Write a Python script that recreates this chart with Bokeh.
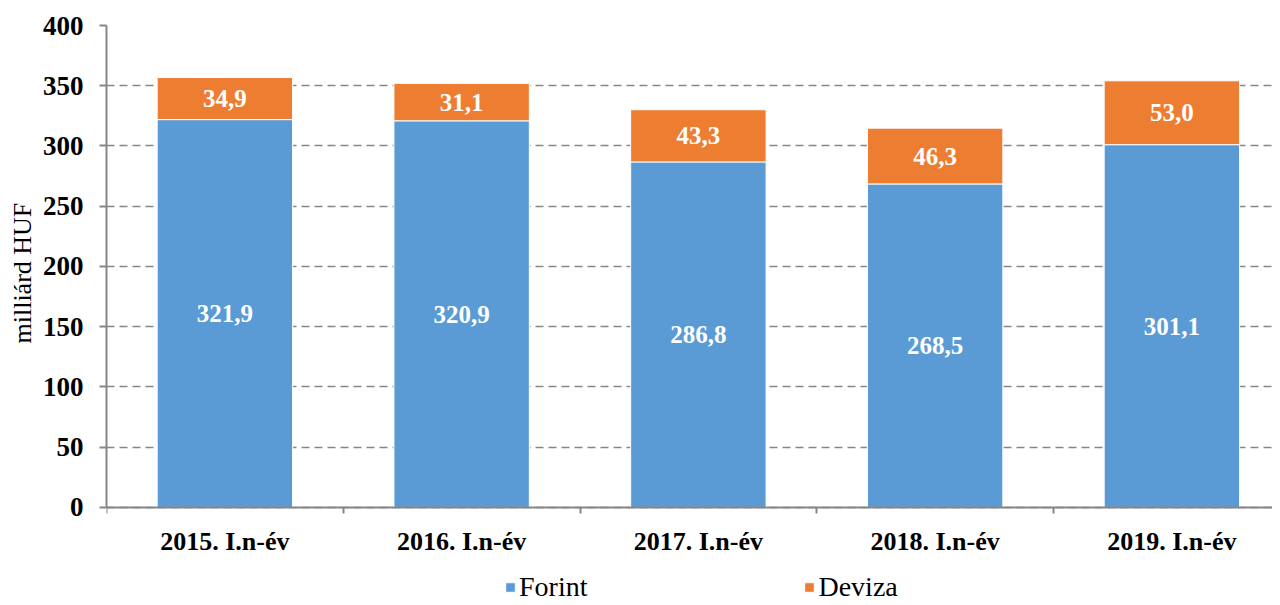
from bokeh.plotting import figure
from bokeh.models import Range1d, FixedTicker, Legend, LegendItem, ColumnDataSource, Title
from bokeh.core.properties import value
from bokeh.embed import file_html
from bokeh.resources import INLINE

categories = ["2015. I.n-év", "2016. I.n-év", "2017. I.n-év", "2018. I.n-év", "2019. I.n-év"]
forint = [321.9, 320.9, 286.8, 268.5, 301.1]
deviza = [34.9, 31.1, 43.3, 46.3, 53.0]
y_ticks = [0, 50, 100, 150, 200, 250, 300, 350, 400]
series_names = ["Forint", "Deviza"]
colors = ["#5B9BD5", "#ED7D31"]
y_label = "milliárd HUF"

FONT = "Liberation Serif"
GRID = "#868686"

xs = [i + 0.5 for i in range(len(categories))]
src = ColumnDataSource(dict(x=xs, Forint=forint, Deviza=deviza))

# frame extends below zero so the category labels and legend sit inside it
p = figure(frame_width=1166, frame_height=578, output_backend="svg", toolbar_location=None,
           x_range=Range1d(0, 4.925), y_range=Range1d(-79.7, 400),
           x_axis_location="above",
           min_border_left=106, min_border_top=25, min_border_right=0, min_border_bottom=0)
p.outline_line_color = None
p.background_fill_color = "white"
p.border_fill_color = "white"

rs = p.vbar_stack(series_names, x="x", width=0.572, color=colors, source=src,
                  line_color="white", line_width=1)

# data labels
fl = [f"{v:.1f}".replace(".", ",") for v in forint]
dl = [f"{v:.1f}".replace(".", ",") for v in deviza]
fy = [v / 2 for v in forint]
dy = [f + d / 2 for f, d in zip(forint, deviza)]
for ys, texts in ((fy, fl), (dy, dl)):
    p.text(x=xs, y=ys, text=texts, text_color="white", text_font_size="25px",
           text_font_style="bold", text_align="center", text_baseline="middle",
           text_font=value(FONT))

# category labels under the baseline
p.text(x=xs, y=[0] * len(xs), text=categories, text_color="black", text_font_size="26px",
       text_font_style="bold", text_align="center", text_baseline="top",
       y_offset=20, text_font=value(FONT))

# y axis
p.yaxis.ticker = FixedTicker(ticks=y_ticks)
p.yaxis.bounds = (0, 400)
p.yaxis.axis_line_color = GRID
p.yaxis.axis_line_width = 2
p.yaxis.major_tick_line_color = GRID
p.yaxis.major_tick_line_width = 2
p.yaxis.major_tick_out = 7
p.yaxis.major_tick_in = 0
p.yaxis.minor_tick_line_color = None
p.yaxis.major_label_text_font = FONT
p.yaxis.major_label_text_font_style = "bold"
p.yaxis.major_label_text_font_size = "27px"
p.yaxis.major_label_text_color = "black"
p.yaxis.major_label_standoff = 16

# y axis title, placed along the 0-400 span
ytitle = Title(text=y_label, align="left", offset=260, text_font=FONT,
               text_font_style="normal", text_font_size="26px", text_color="black",
               standoff=6)
p.add_layout(ytitle, "left")

# x axis line drawn at zero, with ticks between the categories
p.xaxis.fixed_location = 0
p.xaxis.ticker = FixedTicker(ticks=xs, minor_ticks=list(range(len(categories) + 1)))
p.xaxis.major_label_overrides = {x: "" for x in xs}
p.xaxis.major_label_standoff = 0
p.xaxis.axis_line_color = GRID
p.xaxis.axis_line_width = 2
p.xaxis.major_tick_line_color = None
p.xaxis.minor_tick_line_color = GRID
p.xaxis.minor_tick_line_width = 2
p.xaxis.minor_tick_out = 0
p.xaxis.minor_tick_in = 6

# grid
p.xgrid.grid_line_color = None
p.ygrid.grid_line_color = GRID
p.ygrid.grid_line_dash = "8 5"
p.ygrid.grid_line_width = 1.5

legend = Legend(items=[LegendItem(label=n, renderers=[r]) for n, r in zip(series_names, rs)],
                orientation="horizontal", location=(398, 0),
                glyph_width=12, glyph_height=12, label_standoff=3, spacing=216,
                border_line_color=None,
                background_fill_alpha=0, padding=0, margin=0)
legend.label_text_font = "Liberation Serif, serif"
legend.label_text_font_style = "normal"
legend.label_text_font_size = "28px"
legend.label_text_color = "black"
p.add_layout(legend, "center")

open("out.html", "w").write(file_html(p, INLINE))
